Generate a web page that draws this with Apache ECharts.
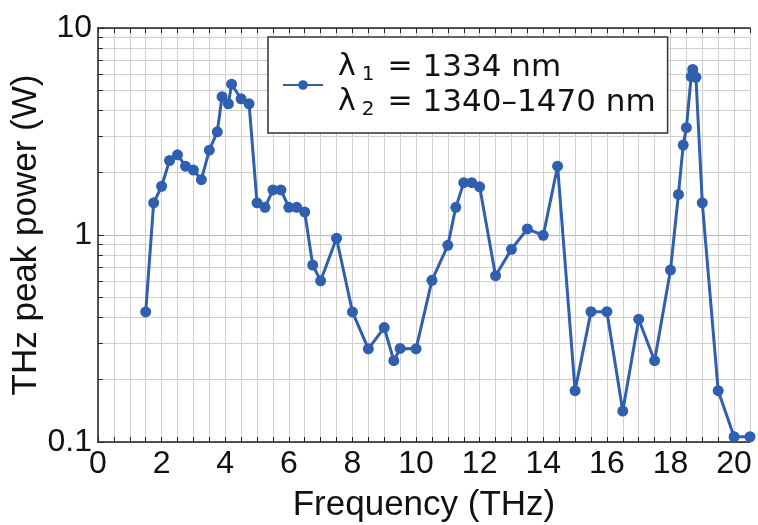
<!DOCTYPE html>
<html>
<head>
<meta charset="utf-8">
<script src="https://cdn.jsdelivr.net/npm/echarts@6/dist/echarts.min.js"></script>
<style>
html,body{margin:0;padding:0;background:#fff;}
#chart{width:758px;height:525px;}
</style>
</head>
<body>
<div id="chart"></div>
<script>
// Data
var frequency = [1.5, 1.75, 2.0, 2.25, 2.5, 2.75, 3.0, 3.25, 3.5, 3.75, 3.9, 4.1, 4.2, 4.5, 4.75, 5.0, 5.25, 5.5, 5.75, 6.0, 6.25, 6.5, 6.75, 7.0, 7.5, 8.0, 8.5, 9.0, 9.3, 9.5, 10.0, 10.5, 11.0, 11.25, 11.5, 11.75, 12.0, 12.5, 13.0, 13.5, 14.0, 14.45, 15.0, 15.5, 16.0, 16.5, 17.0, 17.5, 18.0, 18.25, 18.4, 18.5, 18.65, 18.7, 18.8, 19.0, 19.5, 20.0, 20.5];
var peakPower = [0.425, 1.43, 1.72, 2.29, 2.44, 2.15, 2.06, 1.85, 2.57, 3.15, 4.66, 4.3, 5.35, 4.55, 4.3, 1.43, 1.36, 1.65, 1.65, 1.36, 1.36, 1.29, 0.716, 0.601, 0.964, 0.425, 0.282, 0.357, 0.247, 0.283, 0.282, 0.604, 0.892, 1.36, 1.79, 1.79, 1.71, 0.636, 0.853, 1.07, 0.996, 2.15, 0.177, 0.426, 0.426, 0.141, 0.392, 0.247, 0.677, 1.57, 2.72, 3.30, 5.82, 6.31, 5.78, 1.43, 0.177, 0.106, 0.106];
var xTickLabels = [0, 2, 4, 6, 8, 10, 12, 14, 16, 18, 20];
var yTickLabels = [0.1, 1, 10];
var yMinorGrid = [0.2, 0.3, 0.4, 0.5, 0.6, 0.7, 0.8, 0.9, 2, 3, 4, 5, 6, 7, 8, 9];
var xTitle = 'Frequency (THz)';
var yTitle = 'THz peak power (W)';

var FONT = 'Liberation Sans, Arial, Helvetica, sans-serif';
var LFONT = 'DejaVu Sans, Liberation Sans, Arial, sans-serif';
var BLUE = '#2f5fae';
var GRID = '#cfcfcf';
var AXIS = '#222';

var pts = frequency.map(function (f, i) { return [f, peakPower[i]]; });

var gridMarks = yMinorGrid.map(function (v) { return { yAxis: v }; });
var tickMarks = [];
yMinorGrid.forEach(function (v) {
  tickMarks.push([{ coord: [0, v] }, { coord: [0.15, v] }]);
});

var chart = echarts.init(document.getElementById('chart'), null, { renderer: 'canvas' });
chart.setOption({
  animation: false,
  backgroundColor: '#fff',
  grid: { left: 98, right: 8, top: 28, bottom: 83, containLabel: false, outerBoundsMode: 'none' },
  graphic: [{
    type: 'text',
    x: 26, y: 235,
    rotation: Math.PI / 2,
    silent: true,
    style: {
      text: yTitle,
      fontFamily: FONT, fontSize: 35, fill: '#111',
      align: 'center', verticalAlign: 'middle'
    }
  }],
  legend: {
    data: ['thz'],
    left: 268, top: 37,
    orient: 'vertical',
    padding: [13, 12, 13, 14],
    backgroundColor: '#fff',
    borderColor: '#333',
    borderWidth: 1.5,
    borderRadius: 0,
    itemWidth: 40,
    itemHeight: 12,
    z: 10,
    formatter: function () {
      return '{l|λ}{s|1}{e|=}{m|1334 nm}\n{l|λ}{s|2}{e|=}{m|1340–1470 nm}';
    },
    textStyle: {
      color: '#111',
      fontFamily: LFONT,
      fontSize: 30,
      lineHeight: 35,
      rich: {
        l: { fontFamily: LFONT, fontSize: 30, lineHeight: 35, color: '#111', padding: [0, 0, 0, 10] },
        s: { fontFamily: LFONT, fontSize: 20, lineHeight: 16, color: '#111', verticalAlign: 'bottom', padding: [0, 13, 0, 6] },
        e: { fontFamily: LFONT, fontSize: 30, lineHeight: 35, color: '#111', padding: [0, 10, 0, 0] },
        m: { fontFamily: LFONT, fontSize: 31, lineHeight: 35, color: '#111' }
      }
    }
  },
  xAxis: [{
    type: 'value', min: 0, max: 20.5, interval: 0.5,
    position: 'bottom',
    name: xTitle, nameLocation: 'middle', nameGap: 46,
    nameTextStyle: { fontFamily: FONT, fontSize: 35, color: '#111', verticalAlign: 'top' },
    axisLine: { show: true, onZero: false, lineStyle: { color: AXIS, width: 1.5 } },
    axisTick: { show: true, inside: true, length: 5, lineStyle: { color: AXIS, width: 1 } },
    axisLabel: {
      fontFamily: FONT, fontSize: 32, color: '#111', margin: 6,
      formatter: function (v) { return xTickLabels.indexOf(v) >= 0 ? String(v) : ''; }
    },
    splitLine: { show: true, lineStyle: { color: GRID, width: 1 } }
  }, {
    type: 'value', min: 0, max: 20.5, interval: 0.5,
    position: 'top',
    axisLine: { show: true, onZero: false, lineStyle: { color: AXIS, width: 1.5 } },
    axisTick: { show: true, inside: true, length: 5, lineStyle: { color: AXIS, width: 1 } },
    axisLabel: { show: false },
    splitLine: { show: false }
  }],
  yAxis: [{
    type: 'log', logBase: 10, min: 0.1, max: 10, interval: 1,
    axisLine: { show: true, onZero: false, lineStyle: { color: AXIS, width: 1.5 } },
    axisTick: { show: true, inside: true, length: 6, lineStyle: { color: AXIS, width: 1 } },
    axisLabel: {
      fontFamily: FONT, fontSize: 32, color: '#111', margin: 6,
      formatter: function (v) { return yTickLabels.indexOf(v) >= 0 ? String(v) : ''; }
    },
    splitLine: { show: true, lineStyle: { color: '#b8b8b8', width: 1 } }
  }],
  series: [{
    name: 'grid',
    type: 'line',
    data: [],
    silent: true,
    z: 1,
    markLine: {
      silent: true,
      symbol: ['none', 'none'],
      label: { show: false },
      animation: false,
      lineStyle: { color: GRID, width: 1, type: 'solid' },
      emphasis: { disabled: true },
      data: gridMarks
    }
  }, {
    name: 'ticks',
    type: 'line',
    data: [],
    silent: true,
    z: 3,
    markLine: {
      silent: true,
      symbol: ['none', 'none'],
      label: { show: false },
      animation: false,
      lineStyle: { color: AXIS, width: 1, type: 'solid' },
      emphasis: { disabled: true },
      data: tickMarks
    }
  }, {
    name: 'thz',
    type: 'line',
    data: pts,
    z: 5,
    clip: false,
    color: BLUE,
    symbol: 'circle',
    symbolSize: 11,
    showAllSymbol: true,
    lineStyle: { color: BLUE, width: 3 },
    itemStyle: { color: BLUE }
  }]
});
</script>
</body>
</html>
